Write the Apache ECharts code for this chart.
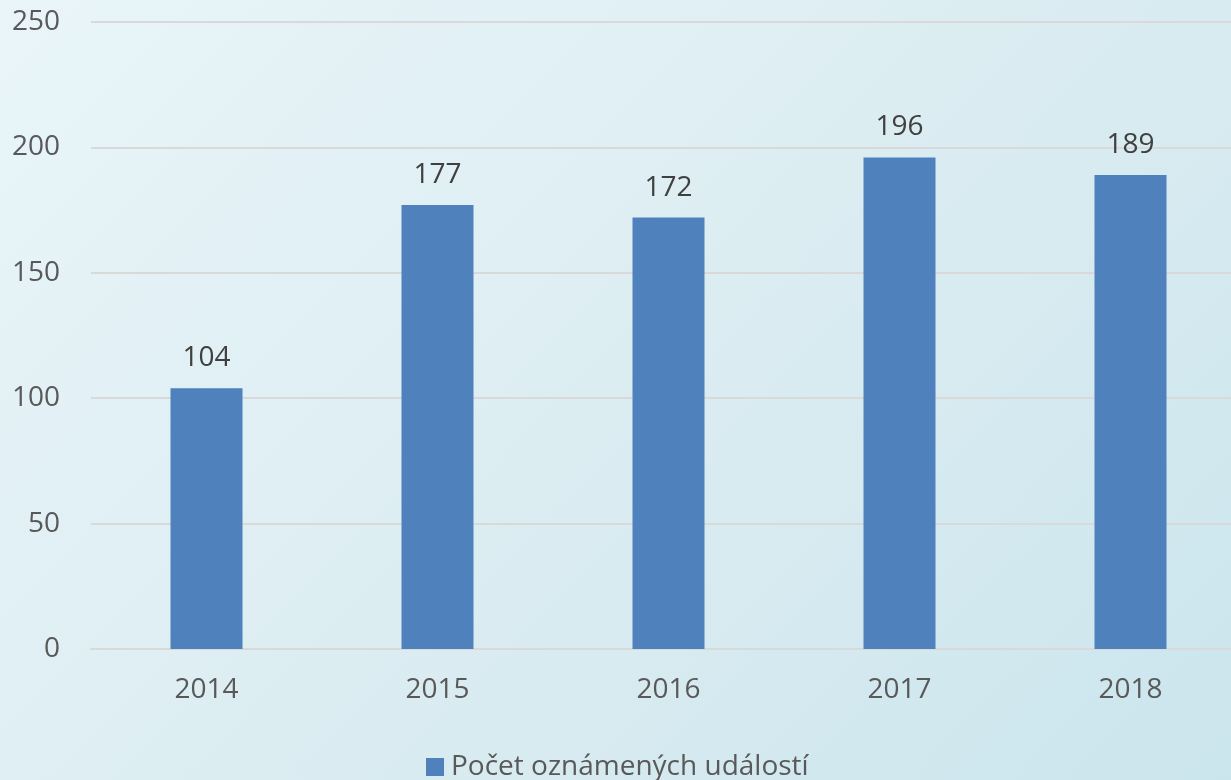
<!DOCTYPE html>
<html><head><meta charset="utf-8">
<script src="https://cdn.jsdelivr.net/npm/echarts@6/dist/echarts.min.js"></script>
<style>html,body{margin:0;padding:0;overflow:hidden;width:1231px;height:780px;background:linear-gradient(135deg,#e9f5f9 0%,#dcedf2 50%,#cbe5ed 100%);}#c{width:1246px;height:780px;}</style>
</head><body><div id="c"></div>
<script>
var categories = ['2014','2015','2016','2017','2018'];
var values = [104,177,172,196,189];
var seriesName = 'Počet oznámených událostí';
var chart = echarts.init(document.getElementById('c'));
var font = '"Open Sans", sans-serif';
chart.setOption({
  backgroundColor: 'transparent',
  animation: false,
  grid: {left: 91, right: 0, top: 22, bottom: 131},
  legend: {top: 748, left: 421, itemWidth: 18, itemHeight: 18, icon: 'rect', itemGap: 6,
    textStyle: {fontFamily: font, fontSize: 28, color: '#595959', padding: [0,0,0,2]}, data: [seriesName]},
  xAxis: {type: 'category', data: categories,
    axisLine: {lineStyle: {color: '#d9d9d9', width: 2}}, axisTick: {show: false},
    axisLabel: {fontFamily: font, fontSize: 28, color: '#595959', margin: 27}},
  yAxis: {type: 'value', min: 0, max: 250, interval: 50,
    axisLine: {show: false}, axisTick: {show: false},
    splitLine: {lineStyle: {color: '#d9d9d9', width: 2}},
    axisLabel: {fontFamily: font, fontSize: 28, color: '#595959', margin: 31}},
  series: [{name: seriesName, type: 'bar', data: values, barWidth: 72,
    itemStyle: {color: '#4f81bd'},
    label: {show: true, position: 'top', distance: 16, fontFamily: font, fontSize: 28, color: '#404040'}}]
});
</script></body></html>
